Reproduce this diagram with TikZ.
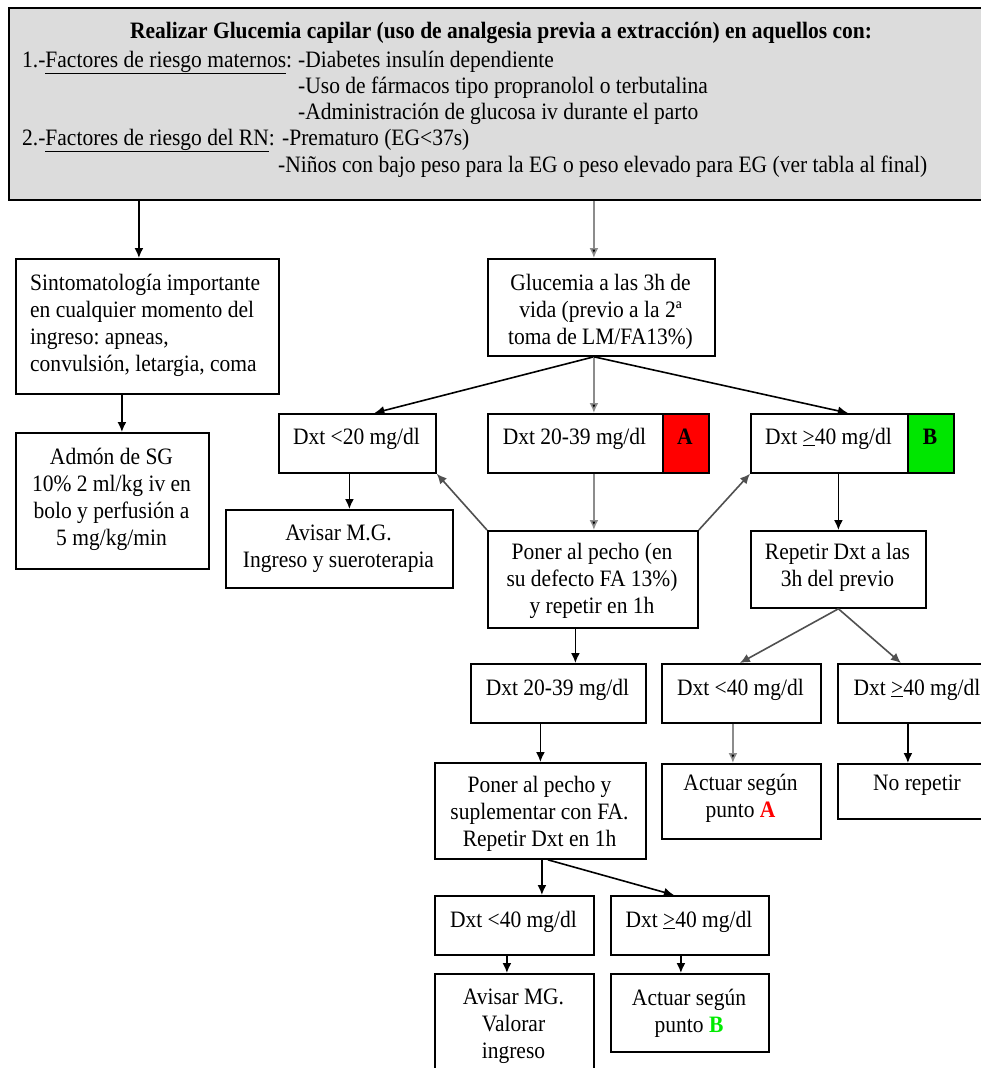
\documentclass[tikz,border=0pt]{standalone}
\usepackage{fontspec}
\setmainfont{Liberation Serif}[FakeStretch=0.915]
\usetikzlibrary{arrows.meta}
\frenchspacing
\definecolor{topgray}{RGB}{220,220,220}
\definecolor{cellred}{RGB}{255,0,0}
\definecolor{cellgreen}{RGB}{0,230,0}
\definecolor{txtgreen}{RGB}{0,235,0}
\definecolor{txtred}{RGB}{255,0,0}
\definecolor{arrgray}{RGB}{140,140,140}
\definecolor{arrdark}{RGB}{80,80,80}
\newcommand\mybx[6][]{\node[box,#1,minimum width={#5pt-#3pt},minimum height={#6pt-#4pt}] (#2) at (#3,#4) {};}
\newcommand\mytx[5][]{\node[txt,#1] (#2) at (#3,#4-19) {\strut #5};}
\tikzset{
  box/.style={draw, line width=1.8pt, fill=white, inner sep=0pt, anchor=north west},
  txt/.style={inner sep=0pt, anchor=north, align=center, font=\fontsize{23.5}{27}\selectfont},
  tline/.style={inner sep=0pt, anchor=base west, font=\fontsize{23.5}{27}\selectfont},
  arr/.style={line width=1.6pt, -{Latex[length=10pt,width=9pt]}},
  garr/.style={draw=arrgray, -{Latex[length=10pt,width=9pt,fill=black]}},
  darr/.style={draw=arrdark},
}
\begin{document}
\begin{tikzpicture}[x=1pt,y=-1pt]
\useasboundingbox (0,0) rectangle (981,1068);
\fill[white] (0,0) rectangle (981,1068);
\clip (0,0) rectangle (981,1068);

% boxes
\mybx[fill=topgray]{top}{8}{7}{995}{199}
\mybx{sinto}{15}{258}{278}{393}
\mybx{admon}{15}{432}{208}{568}
\mybx{gluc}{487}{258}{714}{355}
\mybx{dlt20}{278}{413}{435}{472}
\mybx{d2039}{487}{413}{708}{472}
\mybx[fill=cellred]{cellA}{662}{413}{708}{472}
\mybx{dge40}{750}{413}{953}{472}
\mybx[fill=cellgreen]{cellB}{907}{413}{953}{472}
\mybx{avisar}{225}{509}{452}{587}
\mybx{poner}{487}{530}{697}{627}
\mybx{repetir}{750}{530}{925}{607}
\mybx{d2039b}{470}{663}{645}{722}
\mybx{dlt40r}{661}{663}{820}{722}
\mybx{dge40r}{837}{663}{997}{722}
\mybx{ponsup}{434}{762}{645}{858}
\mybx{actA}{661}{763}{820}{838}
\mybx{norep}{837}{763}{997}{818}
\mybx{dlt40b}{434}{895}{593}{954}
\mybx{dge40b}{610}{895}{768}{954}
\mybx{avisarMG}{434}{973}{593}{1085}
\mybx{actB}{610}{973}{768}{1051}

% top text
\node[tline, anchor=base, font=\fontsize{23.5}{27}\selectfont\bfseries] (title) at (501,38) {Realizar Glucemia capilar (uso de analgesia previa a extracción) en aquellos con:};
\node[tline] (l1a) at (22,67) {1.-\underline{Factores de riesgo maternos}:};
\node[tline] (l1b) at (298,67) {-Diabetes insulín dependiente};
\node[tline] (l2) at (298,93) {-Uso de fármacos tipo propranolol o terbutalina};
\node[tline] (l3) at (298,119) {-Administración de glucosa iv durante el parto};
\node[tline] (l4a) at (22,145) {2.-\underline{Factores de riesgo del RN}:};
\node[tline] (l4b) at (282,145) {-Prematuro (EG<37s)};
\node[tline] (l5) at (278,172) {-Niños con bajo peso para la EG o peso elevado para EG (ver tabla al final)};

% box texts
\mytx[anchor=north west, align=left]{sintoT}{30}{290}{Sintomatología importante\\en cualquier momento del\\ingreso: apneas,\\convulsión, letargia, coma}
\mytx{admonT}{111.5}{464}{Admón de SG\\10\% 2 ml/kg iv en\\bolo y perfusión a\\5 mg/kg/min}
\mytx{glucT}{600.5}{290}{Glucemia a las 3h de\\vida (previo a la 2ª\\toma de LM/FA13\%)}
\mytx{dlt20T}{356.5}{444}{Dxt <20 mg/dl}
\mytx{d2039T}{574.5}{444}{Dxt 20-39 mg/dl}
\mytx{cellAT}{685}{444}{\textbf{A}}
\mytx{dge40T}{828.5}{444}{Dxt \underline{>}40 mg/dl}
\mytx{cellBT}{930}{444}{\textbf{B}}
\mytx{avisarT}{338.5}{540}{Avisar M.G.\\Ingreso y sueroterapia}
\mytx{ponerT}{592}{559}{Poner al pecho (en\\su defecto FA 13\%)\\y repetir en 1h}
\mytx{repetirT}{837.5}{559}{Repetir Dxt a las\\3h del previo}
\mytx{d2039bT}{557.5}{695}{Dxt 20-39 mg/dl}
\mytx{dlt40rT}{740.5}{695}{Dxt <40 mg/dl}
\mytx{dge40rT}{917}{695}{Dxt \underline{>}40 mg/dl}
\mytx{ponsupT}{539.5}{792}{Poner al pecho y\\suplementar con FA.\\Repetir Dxt en 1h}
\mytx{actAT}{740.5}{790}{Actuar según\\punto \textcolor{txtred}{\textbf{A}}}
\mytx{norepT}{917}{790}{No repetir}
\mytx{dlt40bT}{513.5}{927}{Dxt <40 mg/dl}
\mytx{dge40bT}{689}{927}{Dxt \underline{>}40 mg/dl}
\mytx{avisarMGT}{513.5}{1004}{Avisar MG.\\Valorar\\ingreso}
\mytx{actBT}{689}{1005}{Actuar según\\punto \textcolor{txtgreen}{\textbf{B}}}

% connectors
\coordinate (a1) at ([xshift=-8.5pt]sinto.north);
\draw[arr] (top.south -| a1) -- (a1);
\coordinate (a2) at ([xshift=-7.5pt]gluc.north);
\draw[arr,garr] (top.south -| a2) -- (a2);
\coordinate (a3) at ([xshift=9.5pt]admon.north);
\draw[arr] (sinto.south -| a3) -- (a3);
\coordinate (g0) at ([xshift=-7.5pt]gluc.south);
\coordinate (a4) at ([xshift=17pt]dlt20.north);
\draw[arr] (g0) -- (a4);
\draw[arr,garr] (g0) -- (d2039.north -| g0);
\coordinate (a5) at ([xshift=-4.5pt]dge40.north);
\draw[arr] (g0) -- (a5);
\coordinate (a6) at ([xshift=-8pt]dlt20.south);
\draw[arr] (a6) -- (avisar.north -| a6);
\draw[arr,garr] (d2039.south -| g0) -- (poner.north -| g0);
\draw[arr,darr] (poner.north west) -- (dlt20.south east);
\draw[arr,darr] (poner.north east) -- (dge40.south west);
\draw[arr] (dge40.south -| repetir.north) -- (repetir.north);
\coordinate (a7) at ([xshift=17pt]d2039b.north);
\draw[arr] (poner.south -| a7) -- (a7);
\coordinate (a8) at ([xshift=-1.5pt]dlt40r.north);
\draw[arr,darr] (repetir.south) -- (a8);
\coordinate (a9) at ([xshift=-17pt]dge40r.north);
\draw[arr,darr] (repetir.south) -- (a9);
\draw[arr] (d2039b.south -| ponsup.north) -- (ponsup.north);
\coordinate (a10) at ([xshift=-8.5pt]actA.north);
\draw[arr,garr] (dlt40r.south -| a10) -- (a10);
\coordinate (a11) at ([xshift=-10pt]norep.north);
\draw[arr] (dge40r.south -| a11) -- (a11);
\coordinate (a12) at ([xshift=1.5pt]ponsup.south);
\draw[arr] (a12) -- (dlt40b.north -| a12);
\coordinate (a13) at ([xshift=7.5pt]ponsup.south);
\coordinate (a14) at ([xshift=-16pt]dge40b.north);
\draw[arr] (a13) -- (a14);
\coordinate (a15) at ([xshift=-7.5pt]dlt40b.south);
\draw[arr] (a15) -- (avisarMG.north -| a15);
\coordinate (a16) at ([xshift=-9pt]dge40b.south);
\draw[arr] (a16) -- (actB.north -| a16);
\end{tikzpicture}
\end{document}
